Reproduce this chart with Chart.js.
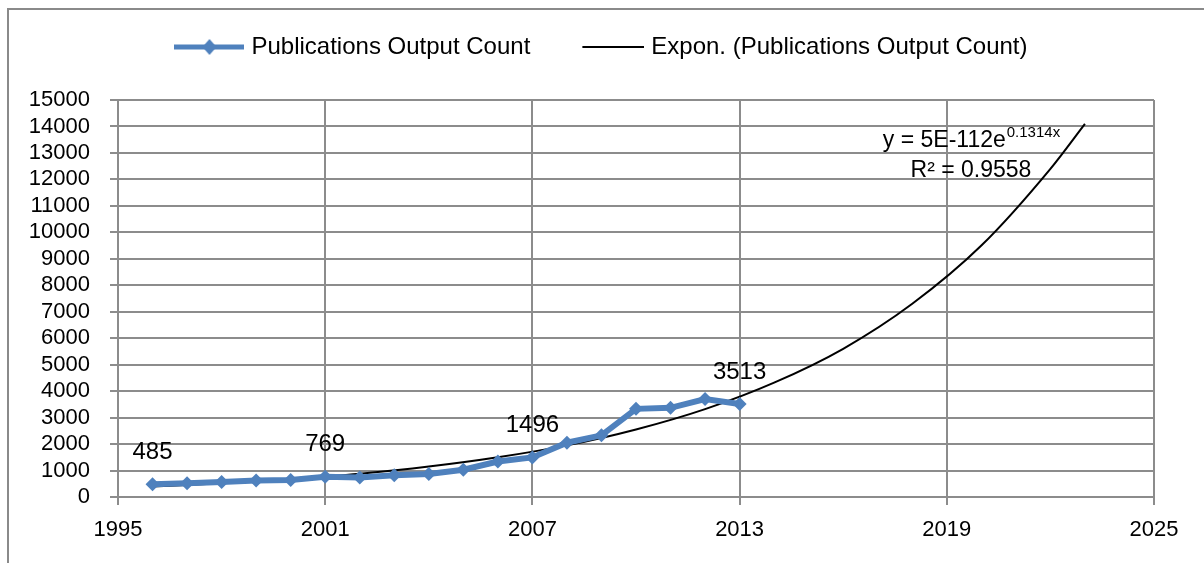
<!DOCTYPE html>
<html>
<head>
<meta charset="utf-8">
<script src="https://cdn.jsdelivr.net/npm/chart.js@4.4.1/dist/chart.umd.min.js"></script>
<style>
body{margin:0;background:#fff;overflow:hidden}
#frame{position:absolute;left:7px;top:8px;width:1220px;height:600px;border:2px solid #8a8a8a;box-sizing:border-box}
#chart{position:absolute;left:0;top:0}
</style>
</head>
<body>
<div id="frame"></div>
<canvas id="chart" width="1204" height="563"></canvas>
<script>
const years = [1996, 1997, 1998, 1999, 2000, 2001, 2002, 2003, 2004, 2005, 2006, 2007, 2008, 2009, 2010, 2011, 2012, 2013]
const outputCount = [485, 520, 570, 620, 640, 769, 740, 820, 870, 1030, 1340, 1496, 2050, 2330, 3330, 3370, 3700, 3513]
// points
const trendYears = [1996, 1998, 2000, 2002, 2004, 2006, 2008, 2010, 2012, 2014, 2016, 2018, 2020, 2022, 2023]
const trendValues = [400, 520, 680, 880, 1150, 1500, 1950, 2550, 3320, 4320, 5600, 7300, 9500, 12400, 14100]
const labelledYears = [1996, 2001, 2007, 2013]
const seriesName = "Publications Output Count"
const trendName = "Expon. (Publications Output Count)"
const equation = ["y = 5E-112e", "0.1314x"]
const rSquared = "R² = 0.9558"

const blue = "#4F81BD"
const gridColor = "#8c8c8c"
const font = "'Liberation Sans', Arial, sans-serif"

function legendIcon(withDiamond, color, width){
    const c = document.createElement("canvas")
    c.width = 70
    c.height = 18
    const g = c.getContext("2d")
    g.strokeStyle = color
    g.lineWidth = width
    g.beginPath()
    g.moveTo(withDiamond ? 0 : 8, 9)
    g.lineTo(70, 9)
    g.stroke()
    if (withDiamond) {
        g.fillStyle = color
        g.beginPath()
        g.moveTo(35, 1)
        g.lineTo(42, 9)
        g.lineTo(35, 17)
        g.lineTo(28, 9)
        g.closePath()
        g.fill()
    }
    return c
}

const annotations = {
    id: "annotations",
    afterDatasetsDraw(chart){
        const ctx = chart.ctx
        const x = chart.scales.x
        const y = chart.scales.y
        ctx.save()
        ctx.fillStyle = "#000"
        ctx.textAlign = "center"
        ctx.textBaseline = "middle"
        ctx.font = "24px " + font
        labelledYears.forEach(yr => {
            const v = outputCount[years.indexOf(yr)]
            ctx.fillText(String(v), x.getPixelForValue(yr), y.getPixelForValue(v) - 32)
        })
        // trendline equation
        const cx = x.getPixelForValue(2019.7)
        ctx.font = "23px " + font
        const w1 = ctx.measureText(equation[0]).width
        ctx.font = "15px " + font
        const w2 = ctx.measureText(equation[1]).width
        const left = cx - (w1 + w2) / 2
        const ey = y.getPixelForValue(13450)
        ctx.textAlign = "left"
        ctx.font = "23px " + font
        ctx.fillText(equation[0], left, ey)
        ctx.font = "15px " + font
        ctx.fillText(equation[1], left + w1 + 1, ey - 8)
        ctx.textAlign = "center"
        ctx.font = "23px " + font
        ctx.fillText(rSquared, cx, y.getPixelForValue(12330))
        ctx.restore()
    }
}

// legend sits a bit right of centre and leaves room above the plot
const legendGap = {
    id: "legendGap",
    afterInit(chart){
        const fit = chart.legend.fit
        chart.legend.fit = function(){
            fit.call(this)
            this.height = 114
            if (this.lineWidths) this.lineWidths[0] -= 45
        }
    }
}

new Chart(document.getElementById("chart"), {
    type: "line",
    data: {
        datasets: [{
            label: seriesName,
            data: years.map((yr, i) => ({x: yr, y: outputCount[i]})),
            borderColor: blue,
            backgroundColor: blue,
            borderWidth: 6,
            pointStyle: "rectRot",
            pointRadius: 7,
            pointBackgroundColor: blue,
            pointBorderWidth: 0,
            tension: 0
        }, {
            label: trendName,
            data: trendYears.map((yr, i) => ({x: yr, y: trendValues[i]})),
            borderColor: "#000",
            backgroundColor: "#000",
            borderWidth: 2,
            pointRadius: 0,
            cubicInterpolationMode: "monotone"
        }]
    },
    options: {
        responsive: false,
        animation: false,
        events: [],
        layout: {padding: {left: 8, right: 50, top: -14, bottom: 0}},
        plugins: {
            tooltip: {enabled: false},
            legend: {
                labels: {
                    color: "#000",
                    font: {family: font, size: 24},
                    usePointStyle: true,
                    pointStyleWidth: 60,
                    padding: 49,
                    generateLabels(chart){
                        return [
                            {text: seriesName, pointStyle: legendIcon(true, blue, 5), datasetIndex: 0, lineWidth: 0, fontColor: "#000"},
                            {text: trendName, pointStyle: legendIcon(false, "#000", 2), datasetIndex: 1, lineWidth: 0, fontColor: "#000"}
                        ]
                    }
                }
            }
        },
        scales: {
            x: {
                type: "linear",
                min: 1995,
                max: 2025,
                ticks: {stepSize: 6, autoSkip: false, color: "#000", font: {family: font, size: 22}, padding: 12, callback: v => String(v)},
                grid: {color: gridColor, lineWidth: 2, tickLength: 8},
                border: {color: gridColor, width: 2},
                afterFit(scale){ scale.height = 66 }
            },
            y: {
                min: 0,
                max: 15000,
                ticks: {stepSize: 1000, autoSkip: false, color: "#000", font: {family: font, size: 22}, padding: 20, callback: v => String(v)},
                grid: {color: gridColor, lineWidth: 2, tickLength: 8},
                border: {color: gridColor, width: 2},
                afterFit(scale){ scale.width = 110 }
            }
        }
    },
    plugins: [legendGap, annotations]
})
</script>
</body>
</html>
